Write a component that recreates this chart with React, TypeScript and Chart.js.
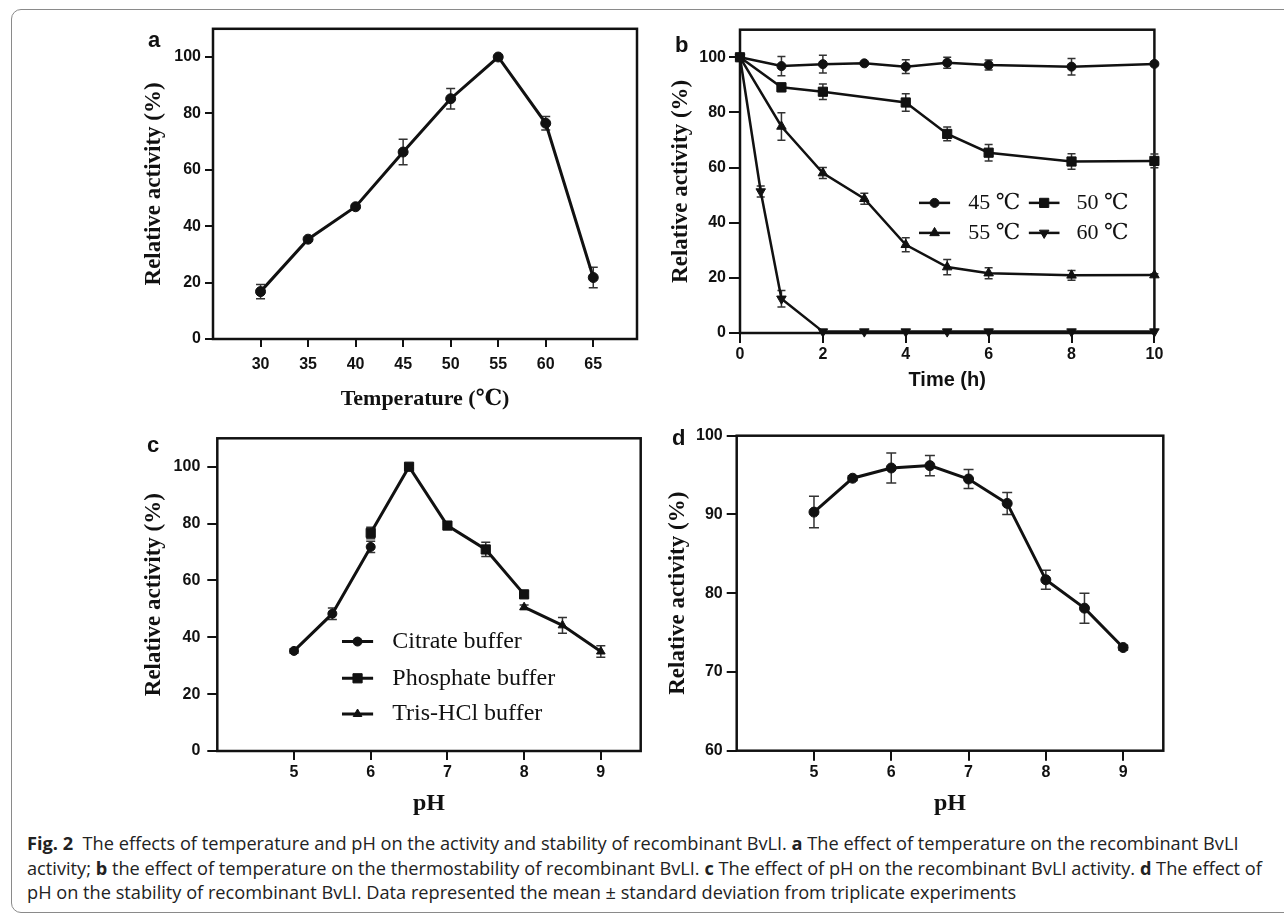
import React, { useEffect, useRef } from 'react';
import { Chart, registerables } from 'chart.js';
import { drawPoint } from 'chart.js/helpers';

Chart.register(...registerables);

// ---------------- data ----------------
// Panel a: effect of temperature on activity
const tempC = [30, 35, 40, 45, 50, 55, 60, 65];
const tempActivity = [16.8, 35.4, 46.9, 66.3, 85.2, 100, 76.5, 21.8];
const tempActivityErr = [2.5, 0.6, 0.6, 4.5, 3.6, 0.4, 2.4, 3.6];
const tempTicks = [30, 35, 40, 45, 50, 55, 60, 65];
const activityTicks = [0, 20, 40, 60, 80, 100];

// Panel b: thermostability over time
const time45 = [0, 1, 2, 3, 4, 5, 6, 8, 10];
const stab45 = [100, 96.8, 97.5, 97.8, 96.6, 98.0, 97.2, 96.6, 97.6];
const stab45Err = [0, 3.5, 3.2, 0.6, 2.5, 2.0, 1.8, 3.0, 0.5];
const time50 = [0, 1, 2, 4, 5, 6, 8, 10];
const stab50 = [100, 89.1, 87.5, 83.6, 72.2, 65.4, 62.2, 62.4];
const stab50Err = [0, 1.5, 2.8, 3.2, 2.5, 3.0, 2.8, 2.5];
const time55 = [0, 1, 2, 3, 4, 5, 6, 8, 10];
const stab55 = [100, 74.9, 58.0, 48.7, 32.0, 23.9, 21.7, 20.9, 21.0];
const stab55Err = [0, 5.0, 2.0, 2.0, 2.5, 2.8, 2.0, 1.8, 0.5];
const time60 = [0, 0.5, 1, 2, 3, 4, 5, 6, 8, 10];
const stab60 = [100, 51.3, 12.4, 0.5, 0.5, 0.5, 0.5, 0.5, 0.5, 0.5];
const stab60Err = [0, 2.0, 3.0, 0, 0, 0, 0, 0, 0, 0];
const timeTicks = [0, 2, 4, 6, 8, 10];
const tempLabels = ['45 ℃', '50 ℃', '55 ℃', '60 ℃'];

// Panel c: effect of pH on activity
const phCitrate = [5, 5.5, 6];
const actCitrate = [35.2, 48.3, 71.8];
const errCitrate = [0.8, 2.0, 2.0];
const phPhosphate = [6, 6.5, 7, 7.5, 8];
const actPhosphate = [76.7, 100, 79.3, 70.9, 55.1];
const errPhosphate = [2.0, 0.5, 0.8, 2.5, 1.0];
const phTris = [8, 8.5, 9];
const actTris = [50.6, 44.2, 35.0];
const errTris = [0.8, 2.8, 2.0];
const phTicks = [5, 6, 7, 8, 9];
const bufferLabels = ['Citrate buffer', 'Phosphate buffer', 'Tris-HCl buffer'];

// Panel d: pH stability
const phStab = [5, 5.5, 6, 6.5, 7, 7.5, 8, 8.5, 9];
const actStab = [90.3, 94.6, 95.9, 96.2, 94.5, 91.4, 81.7, 78.1, 73.1];
const errStab = [2.0, 0.3, 1.9, 1.3, 1.2, 1.4, 1.2, 1.9, 0.3];
const stabTicks = [60, 70, 80, 90, 100];

// ---------------- styling ----------------
const SERIF = '"Liberation Serif", "Times New Roman", "DejaVu Serif", serif';
const SANS = '"Liberation Sans", Arial, Helvetica, sans-serif';
const INK = '#111';

const pts = (xs: number[], ys: number[]) => xs.map((x, i) => ({ x, y: ys[i] }));

function series(xs: number[], ys: number[], errs: number[], style: string, radius: number, lw: number, rotation = 0, cap = 4.5) {
  return {
    data: pts(xs, ys),
    errors: errs,
    errorCap: cap,
    borderColor: INK,
    backgroundColor: INK,
    borderWidth: lw,
    pointStyle: style,
    pointRotation: rotation,
    pointRadius: radius,
    pointBackgroundColor: INK,
    pointBorderColor: INK,
    pointBorderWidth: 1,
    tension: 0,
    clip: false,
  };
}

const framePlugin = {
  id: 'frame',
  beforeDatasetsDraw(chart: any) {
    const { ctx, chartArea } = chart;
    const { left, top, right, bottom } = chartArea;
    ctx.save();
    ctx.strokeStyle = INK;
    ctx.lineWidth = 2.5;
    ctx.strokeRect(left, top, right - left, bottom - top);
    ctx.restore();
  },
};

const errorPlugin = {
  id: 'errbars',
  beforeDatasetsDraw(chart: any) {
    const { ctx } = chart;
    const ys = chart.scales.y;
    chart.data.datasets.forEach((ds: any, i: number) => {
      if (!ds.errors) return;
      const meta = chart.getDatasetMeta(i);
      meta.data.forEach((el: any, j: number) => {
        const e = ds.errors[j];
        if (!e) return;
        const v = ds.data[j].y;
        const yt = ys.getPixelForValue(v + e);
        const yb = ys.getPixelForValue(v - e);
        const x = el.x;
        const c = ds.errorCap;
        ctx.save();
        ctx.strokeStyle = '#333';
        ctx.lineWidth = 1.5;
        ctx.beginPath();
        ctx.moveTo(x, yt); ctx.lineTo(x, yb);
        ctx.moveTo(x - c, yt); ctx.lineTo(x + c, yt);
        ctx.moveTo(x - c, yb); ctx.lineTo(x + c, yb);
        ctx.stroke();
        ctx.restore();
      });
    });
  },
};

type LegendItem = { label: string; ds: number; lx0: number; lx1: number; tx: number; ty: number };

function legendPlugin(items: LegendItem[], font: string) {
  return {
    id: 'inlegend',
    afterDatasetsDraw(chart: any) {
      const { ctx, chartArea } = chart;
      const { left, top, right, bottom } = chartArea;
      const W = right - left, H = bottom - top;
      items.forEach((it) => {
        const ds: any = chart.data.datasets[it.ds];
        const y = top + it.ty * H;
        const x0 = left + it.lx0 * W, x1 = left + it.lx1 * W;
        ctx.save();
        ctx.strokeStyle = INK;
        ctx.fillStyle = INK;
        ctx.lineWidth = ds.borderWidth;
        ctx.beginPath();
        ctx.moveTo(x0, y); ctx.lineTo(x1, y);
        ctx.stroke();
        ctx.lineWidth = 1;
        drawPoint(ctx, { pointStyle: ds.pointStyle, rotation: ds.pointRotation, radius: ds.pointRadius, borderWidth: 1 } as any, (x0 + x1) / 2, y);
        ctx.font = font;
        ctx.textAlign = 'left';
        ctx.textBaseline = 'middle';
        ctx.fillText(it.label, left + it.tx * W, y);
        ctx.restore();
      });
    },
  };
}

type Box = { left: number; top: number; width: number; height: number };
type Area = { l: number; t: number; r: number; b: number };

type PanelSpec = {
  canvas: Box;
  area: Area;
  datasets: any[];
  xMin: number; xMax: number; xTicks: number[];
  yMin: number; yMax: number; yTicks: number[];
  yTitle: string; yTitleX: number; yTitleSize: number;
  xTitle: string; xTitleY: number; xTitleFont: any;
  yTickLen: number; yTickPad: number;
  xTickLen: number; xLabelY: number;
  tickSize: number;
  extraPlugins?: any[];
};

function buildConfig(p: PanelSpec) {
  const { canvas: c, area: a } = p;
  const yWidth = a.l - c.left;
  const xHeight = c.top + c.height - a.b;
  const tickLH = p.tickSize * 1.2;
  const yTitleLH = p.yTitleSize * 1.2;
  const xTitleLH = p.xTitleFont.size * 1.2;
  return {
    type: 'line',
    data: { datasets: p.datasets },
    options: {
      responsive: false,
      animation: false,
      events: [],
      layout: {
        padding: { left: 0, top: a.t - c.top, right: c.left + c.width - a.r, bottom: 0 },
      },
      plugins: { legend: { display: false }, tooltip: { enabled: false } },
      scales: {
        x: {
          type: 'linear',
          min: p.xMin,
          max: p.xMax,
          afterBuildTicks: (s: any) => { s.ticks = p.xTicks.map((v) => ({ value: v })); },
          afterFit: (s: any) => { s.height = xHeight; },
          border: { display: false },
          grid: { drawOnChartArea: false, drawTicks: true, tickLength: p.xTickLen, color: INK, lineWidth: 2 },
          ticks: {
            color: INK,
            font: { family: SANS, size: p.tickSize, weight: 'bold', lineHeight: 1.2 },
            padding: p.xLabelY - a.b - p.xTickLen - tickLH / 2,
            maxRotation: 0,
            autoSkip: false,
          },
          title: {
            display: true,
            text: p.xTitle,
            color: INK,
            font: { ...p.xTitleFont, lineHeight: 1.2 },
            padding: { top: 0, bottom: c.top + c.height - p.xTitleY - xTitleLH / 2 },
          },
        },
        y: {
          type: 'linear',
          min: p.yMin,
          max: p.yMax,
          afterBuildTicks: (s: any) => { s.ticks = p.yTicks.map((v) => ({ value: v })); },
          afterFit: (s: any) => { s.width = yWidth; },
          border: { display: false },
          grid: { drawOnChartArea: false, drawTicks: true, tickLength: p.yTickLen, color: INK, lineWidth: 2 },
          ticks: {
            color: INK,
            font: { family: SANS, size: p.tickSize, weight: 'bold', lineHeight: 1.2 },
            padding: p.yTickPad,
            autoSkip: false,
          },
          title: {
            display: true,
            text: p.yTitle,
            color: INK,
            font: { family: SERIF, size: p.yTitleSize, weight: 'bold', lineHeight: 1.2 },
            padding: { top: p.yTitleX - c.left - yTitleLH / 2, bottom: 0 },
          },
        },
      },
    },
    plugins: [framePlugin, errorPlugin, ...(p.extraPlugins || [])],
  };
}

function ChartPanel({ spec }: { spec: PanelSpec }) {
  const ref = useRef<HTMLCanvasElement>(null);
  useEffect(() => {
    const chart = new Chart(ref.current as HTMLCanvasElement, buildConfig(spec) as any);
    return () => chart.destroy();
  }, []);
  const b = spec.canvas;
  return (
    <canvas
      ref={ref}
      width={b.width}
      height={b.height}
      style={{ position: 'absolute', left: b.left, top: b.top, width: b.width, height: b.height }}
    />
  );
}

// ---------------- panel specs ----------------
const specA: PanelSpec = {
  canvas: { left: 100, top: 10, width: 560, height: 415 },
  area: { l: 213, t: 28.8, r: 637, b: 339 },
  datasets: [series(tempC, tempActivity, tempActivityErr, 'circle', 5, 3)],
  xMin: 25, xMax: 69.6, xTicks: tempTicks,
  yMin: 0, yMax: 110, yTicks: activityTicks,
  yTitle: 'Relative activity (%)', yTitleX: 154, yTitleSize: 23,
  xTitle: 'Temperature (℃)', xTitleY: 399, xTitleFont: { family: SERIF, size: 22, weight: 'bold' },
  yTickLen: 8, yTickPad: 4, xTickLen: 8, xLabelY: 365, tickSize: 16,
};

const specB: PanelSpec = {
  canvas: { left: 620, top: 10, width: 580, height: 390 },
  area: { l: 740, t: 29.7, r: 1154.4, b: 333 },
  datasets: [
    series(time45, stab45, stab45Err, 'circle', 4.5, 2.5, 0, 4),
    series(time50, stab50, stab50Err, 'rect', 6.5, 2.5, 0, 4),
    series(time55, stab55, stab55Err, 'triangle', 5.5, 2.5, 0, 4),
    series(time60, stab60, stab60Err, 'triangle', 5.5, 2.5, 180, 4),
  ],
  xMin: 0, xMax: 10, xTicks: timeTicks,
  yMin: 0, yMax: 110, yTicks: activityTicks,
  yTitle: 'Relative activity (%)', yTitleX: 681, yTitleSize: 23,
  xTitle: 'Time (h)', xTitleY: 380, xTitleFont: { family: SANS, size: 20, weight: 'bold' },
  yTickLen: 11, yTickPad: 3, xTickLen: 10, xLabelY: 355, tickSize: 16,
  extraPlugins: [
    legendPlugin(
      [
        { label: tempLabels[0], ds: 0, lx0: 0.432, lx1: 0.507, tx: 0.551, ty: 0.571 },
        { label: tempLabels[1], ds: 1, lx0: 0.697, lx1: 0.771, tx: 0.812, ty: 0.571 },
        { label: tempLabels[2], ds: 2, lx0: 0.432, lx1: 0.507, tx: 0.551, ty: 0.670 },
        { label: tempLabels[3], ds: 3, lx0: 0.697, lx1: 0.771, tx: 0.812, ty: 0.670 },
      ],
      `22px ${SERIF}`
    ),
  ],
};

const specC: PanelSpec = {
  canvas: { left: 100, top: 420, width: 560, height: 410 },
  area: { l: 217.3, t: 438.3, r: 640.7, b: 751 },
  datasets: [
    series(phCitrate, actCitrate, errCitrate, 'circle', 4.5, 3),
    series(phPhosphate, actPhosphate, errPhosphate, 'rect', 6.5, 3),
    series(phTris, actTris, errTris, 'triangle', 5, 3),
  ],
  xMin: 4, xMax: 9.52, xTicks: phTicks,
  yMin: 0, yMax: 110, yTicks: activityTicks,
  yTitle: 'Relative activity (%)', yTitleX: 154, yTitleSize: 23,
  xTitle: 'pH', xTitleY: 804, xTitleFont: { family: SERIF, size: 24, weight: 'bold' },
  yTickLen: 10, yTickPad: 7, xTickLen: 9, xLabelY: 772.7, tickSize: 16,
  extraPlugins: [
    legendPlugin(
      [
        { label: bufferLabels[0], ds: 0, lx0: 0.2945, lx1: 0.368, tx: 0.4133, ty: 0.650 },
        { label: bufferLabels[1], ds: 1, lx0: 0.2945, lx1: 0.368, tx: 0.4133, ty: 0.7675 },
        { label: bufferLabels[2], ds: 2, lx0: 0.2945, lx1: 0.368, tx: 0.4133, ty: 0.8817 },
      ],
      `24px ${SERIF}`
    ),
  ],
};

const specD: PanelSpec = {
  canvas: { left: 620, top: 420, width: 580, height: 410 },
  area: { l: 736.7, t: 435.7, r: 1163.3, b: 750.7 },
  datasets: [series(phStab, actStab, errStab, 'circle', 5, 3, 0, 5)],
  xMin: 4, xMax: 9.52, xTicks: phTicks,
  yMin: 60, yMax: 100, yTicks: stabTicks,
  yTitle: 'Relative activity (%)', yTitleX: 678, yTitleSize: 23,
  xTitle: 'pH', xTitleY: 804, xTitleFont: { family: SERIF, size: 24, weight: 'bold' },
  yTickLen: 10, yTickPad: 4, xTickLen: 10, xLabelY: 773, tickSize: 16,
};

const panelLetter = (text: string, left: number, top: number) => (
  <div
    style={{
      position: 'absolute', left, top, fontFamily: SANS, fontWeight: 'bold',
      fontSize: 22, lineHeight: '22px', color: INK,
    }}
  >
    {text}
  </div>
);

const captionStyle: React.CSSProperties = {
  position: 'absolute', left: 27, top: 831, fontFamily: '"Open Sans", "Noto Sans", sans-serif',
  fontSize: 18.2, lineHeight: '24.6px', color: '#222', whiteSpace: 'nowrap',
};

export default function App() {
  return (
    <div style={{ position: 'absolute', left: 0, top: 0, width: 1284, height: 917, overflow: 'hidden', background: '#fff' }}>
      <div
        style={{
          position: 'absolute', left: 11, top: 9, width: 1300, height: 904,
          border: '1.5px solid #8a8a8a', borderRadius: '10px 0 0 10px', boxSizing: 'border-box',
        }}
      />
      <ChartPanel spec={specA} />
      <ChartPanel spec={specB} />
      <ChartPanel spec={specC} />
      <ChartPanel spec={specD} />
      {panelLetter('a', 148, 29)}
      {panelLetter('b', 675, 34)}
      {panelLetter('c', 147, 434)}
      {panelLetter('d', 672, 427)}
      <div style={captionStyle}>
        <div><b>Fig. 2</b>&nbsp; The effects of temperature and pH on the activity and stability of recombinant BvLI. <b>a</b> The effect of temperature on the recombinant BvLI</div>
        <div>activity; <b>b</b> the effect of temperature on the thermostability of recombinant BvLI. <b>c</b> The effect of pH on the recombinant BvLI activity. <b>d</b> The effect of</div>
        <div>pH on the stability of recombinant BvLI. Data represented the mean ± standard deviation from triplicate experiments</div>
      </div>
    </div>
  );
}
